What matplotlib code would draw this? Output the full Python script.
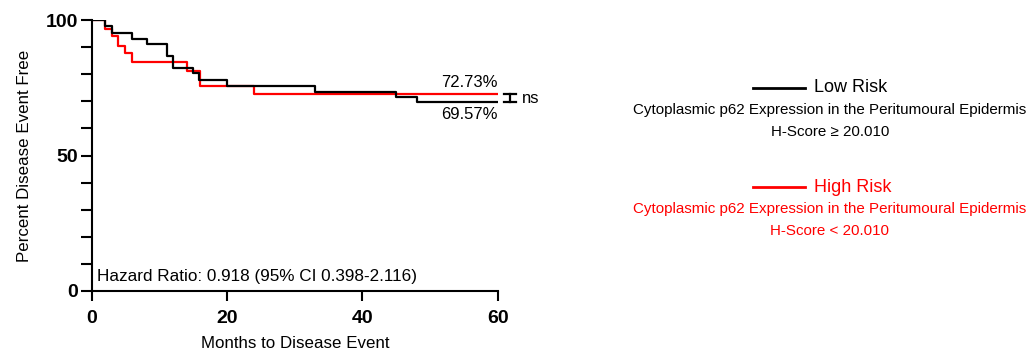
import numpy as np
import matplotlib.pyplot as plt

plt.rcParams.update({
    "font.family": ["Liberation Sans", "DejaVu Sans"],
})

# Kaplan-Meier step data (months, percent event free)
low_t = [0, 1.9, 3.0, 5.95, 8.1, 11.1, 12.0, 15.0, 15.8, 19.9, 33.0, 45.0, 48.0, 60]
low_s = [100, 97.8, 95.3, 93.1, 91.1, 86.7, 82.4, 80.3, 77.9, 75.6, 73.5, 71.5, 69.57, 69.57]
high_t = [0, 1.9, 2.9, 3.9, 4.9, 5.9, 14.0, 15.9, 23.9, 60]
high_s = [100, 96.5, 94.1, 90.4, 87.7, 84.6, 81.3, 75.6, 72.73, 72.73]

low_end = 69.57
high_end = 72.73
hr_text = "Hazard Ratio: 0.918 (95% CI 0.398-2.116)"
x_ticks = [0, 20, 40, 60]
y_ticks = [0, 50, 100]

fig = plt.figure(figsize=(10.35, 3.56), dpi=100)
ax = fig.add_axes([0.0889, 0.1826, 0.392, 0.7612])

ax.step(low_t, low_s, where="post", color="black", lw=1.6, zorder=3)
ax.step(high_t, high_s, where="post", color="#ff0000", lw=1.6, zorder=2)

ax.set_xlim(0, 60)
ax.set_ylim(0, 100)
ax.set_xticks(x_ticks)
ax.set_yticks(y_ticks)
ax.set_yticks(np.arange(0, 101, 10), minor=True)
ax.tick_params(axis="x", which="major", length=7.5, width=1.5, labelsize=14, pad=6)
ax.tick_params(axis="y", which="major", length=8, width=1.5, labelsize=14, pad=2)
ax.tick_params(axis="y", which="minor", length=8, width=1.5)
for lab in ax.get_xticklabels() + ax.get_yticklabels():
    lab.set_fontweight("bold")
ax.spines["right"].set_visible(False)
ax.spines["top"].set_visible(False)
ax.spines["left"].set_linewidth(1.5)
ax.spines["bottom"].set_linewidth(1.5)
ax.set_xlabel("Months to Disease Event", fontsize=12.2, labelpad=7)
ax.set_ylabel("Percent Disease Event Free", fontsize=12.2, labelpad=10)

# end labels
ax.text(60, high_end + 1.5, f"{high_end:.2f}%", ha="right", va="bottom", fontsize=12)
ax.text(60, low_end - 1.5, f"{low_end:.2f}%", ha="right", va="top", fontsize=12)

# significance bracket
ax.plot([61.0, 62.7], [high_end, high_end], color="black", lw=1.6, clip_on=False)
ax.plot([61.0, 62.7], [low_end, low_end], color="black", lw=1.6, clip_on=False)
ax.plot([61.85, 61.85], [low_end, high_end], color="black", lw=1.6, clip_on=False)
ax.text(63.6, (low_end + high_end) / 2, "ns", ha="left", va="center", fontsize=12)

ax.text(0.8, 5.5, hr_text, ha="left", va="center", fontsize=12.3)

# legend
def legend_entry(y_line, color, title, cond):
    fig.add_artist(plt.Line2D([753 / 1035, 805 / 1035], [1 - y_line / 356] * 2,
                              color=color, lw=2, transform=fig.transFigure))
    fig.text(814 / 1035, 1 - y_line / 356, title, color=color, fontsize=13,
             ha="left", va="center")
    fig.text(830 / 1035, 1 - (y_line + 22) / 356,
             "Cytoplasmic p62 Expression in the Peritumoural Epidermis",
             color=color, fontsize=10.9, ha="center", va="center")
    fig.text(830 / 1035, 1 - (y_line + 44) / 356, cond,
             color=color, fontsize=10.9, ha="center", va="center")

legend_entry(88, "black", "Low Risk", "H-Score \u2265 20.010")
legend_entry(187, "#ff0000", "High Risk", "H-Score < 20.010")

fig.savefig("out.png", dpi=100)
